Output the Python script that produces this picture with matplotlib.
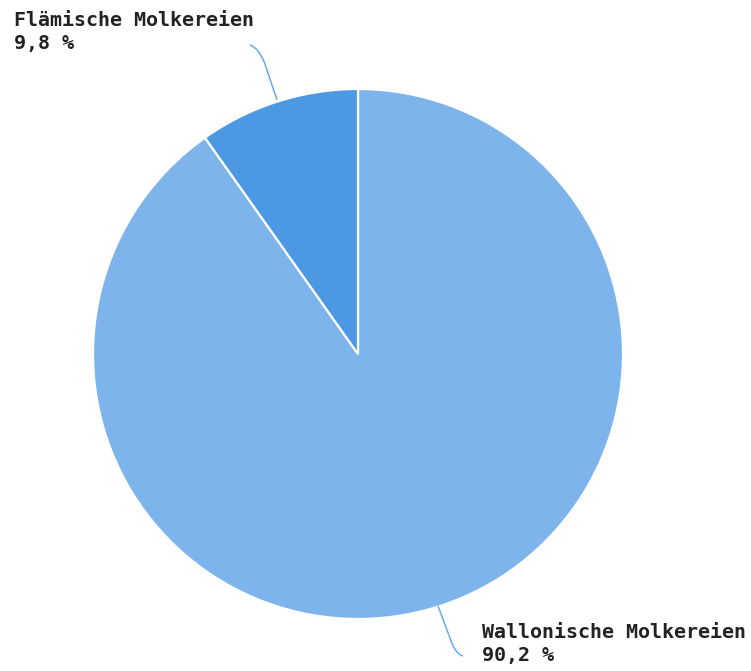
import matplotlib.pyplot as plt
from matplotlib.path import Path
from matplotlib.patches import PathPatch

# Anteile der Molkereien
labels = ["Wallonische Molkereien", "Flämische Molkereien"]
shares = [90.2, 9.8]
colors = ["#7db4eb", "#4d98e3"]

W, H = 751, 671
fig = plt.figure(figsize=(W / 100, H / 100), dpi=100)
ax = fig.add_axes([0, 0, 1, 1])

cx, cy, r = 358, H - 354, 265
ax.pie(shares, colors=colors, startangle=90, counterclock=False,
       center=(cx, cy), radius=r, frame=True,
       wedgeprops=dict(edgecolor="white", linewidth=1.6))
ax.set_xlim(0, W)
ax.set_ylim(0, H)
ax.axis("off")


def leader(points):
    codes = [Path.MOVETO, Path.LINETO, Path.CURVE3, Path.CURVE3]
    ax.add_patch(PathPatch(Path(points, codes), fill=False,
                           edgecolor="#6aaae8", linewidth=1.1))


# Führungslinien (in Pixelkoordinaten, y von unten)
leader([(277, H - 100), (265, H - 64), (259, H - 48), (250, H - 45)])
leader([(438, H - 606), (450, H - 638), (455, H - 654), (463, H - 656)])

font = dict(family="DejaVu Sans Mono", fontweight="bold", fontsize=14.4,
            color="#222222", linespacing=1.25)
ax.text(14, H - 11, f"{labels[1]}\n{shares[1]:.1f} %".replace(".", ","),
        ha="left", va="top", **font)
ax.text(482, H - 623, f"{labels[0]}\n{shares[0]:.1f} %".replace(".", ","),
        ha="left", va="top", **font)

fig.savefig("out.png", dpi=100)
